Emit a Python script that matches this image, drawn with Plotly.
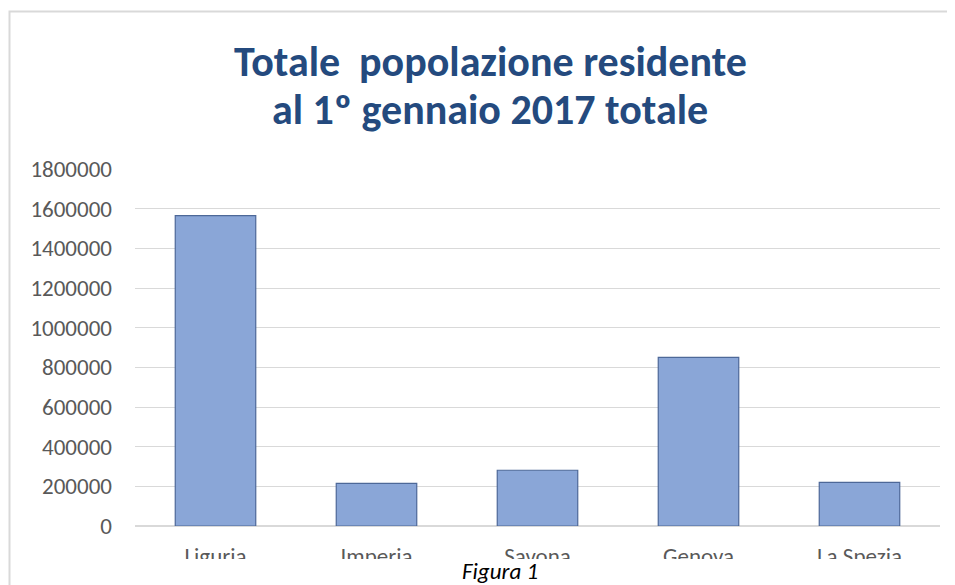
import plotly.graph_objects as go

categories = ["Liguria", "Imperia", "Savona", "Genova", "La Spezia"]
values = [1565307, 214502, 281178, 850071, 219556]
tick_values = [0, 200000, 400000, 600000, 800000, 1000000, 1200000, 1400000, 1600000, 1800000]
tick_labels = [str(v) for v in tick_values]
title_lines = ["Totale  popolazione residente", "al 1º gennaio 2017 totale"]
caption = "Figura 1"

# page has an 8px body margin: the figure starts at screen (8, 8)
OFF = 8
W, H = 955 - OFF, 585 - OFF
L, R, T, B = 135 - OFF, 15, 169 - OFF, 585 - 526
pw, ph = W - L - R, H - T - B

def px_x(p):  # screen px -> paper x
    return (p - OFF - L) / pw

def px_y(p):  # screen px -> paper y
    return (H - B - (p - OFF)) / ph

FONT = "Carlito, Open Sans, sans-serif"

fig = go.Figure()
fig.add_trace(go.Bar(
    x=categories, y=values,
    marker=dict(color="#8AA6D7", line=dict(color="#4D6898", width=1.2)),
    hoverinfo="x+y",
))

fig.update_layout(
    width=W, height=H,
    margin=dict(l=L, r=R, t=T, b=B),
    paper_bgcolor="white", plot_bgcolor="white",
    bargap=0.5,
    showlegend=False,
    font=dict(family=FONT, color="#595959"),
)

fig.update_yaxes(
    range=[0, 1800000], tickvals=tick_values, ticktext=tick_labels,
    showgrid=True, gridcolor="#D9D9D9", gridwidth=1,
    zeroline=True, zerolinecolor="#D9D9D9", zerolinewidth=1.5,
    tickfont=dict(size=23, color="#595959"), ticks="", ticklabelstandoff=22,
    showline=False,
)
fig.update_xaxes(
    tickfont=dict(size=23, color="#595959"), ticks="", ticklabelstandoff=14,
    showline=False, showgrid=False,
)

# title, two lines placed separately
for line, yc in zip(title_lines, [62, 110]):
    fig.add_annotation(text="<b>" + line + "</b>", xref="paper", yref="paper",
                       x=px_x(490), y=px_y(yc), xanchor="center", yanchor="middle",
                       showarrow=False,
                       font=dict(family=FONT, size=42, color="#244A7E"))

# chart frame (top and left edges visible)
fig.add_shape(type="rect", xref="paper", yref="paper",
              x0=px_x(9.5), x1=px_x(970), y0=px_y(600), y1=px_y(11.5),
              line=dict(color="#D9D9D9", width=2), fillcolor="rgba(0,0,0,0)", layer="below")
# caption band overlapping the category labels
fig.add_shape(type="rect", xref="paper", yref="paper",
              x0=px_x(11), x1=px_x(960), y0=px_y(600), y1=px_y(559),
              line=dict(width=0), fillcolor="white", layer="above")
fig.add_annotation(text="<i>" + caption + "</i>", xref="paper", yref="paper",
                   x=px_x(500), y=px_y(571), xanchor="center", yanchor="middle",
                   showarrow=False, font=dict(size=23, color="#000000", family=FONT))

fig.write_html("out.html")
